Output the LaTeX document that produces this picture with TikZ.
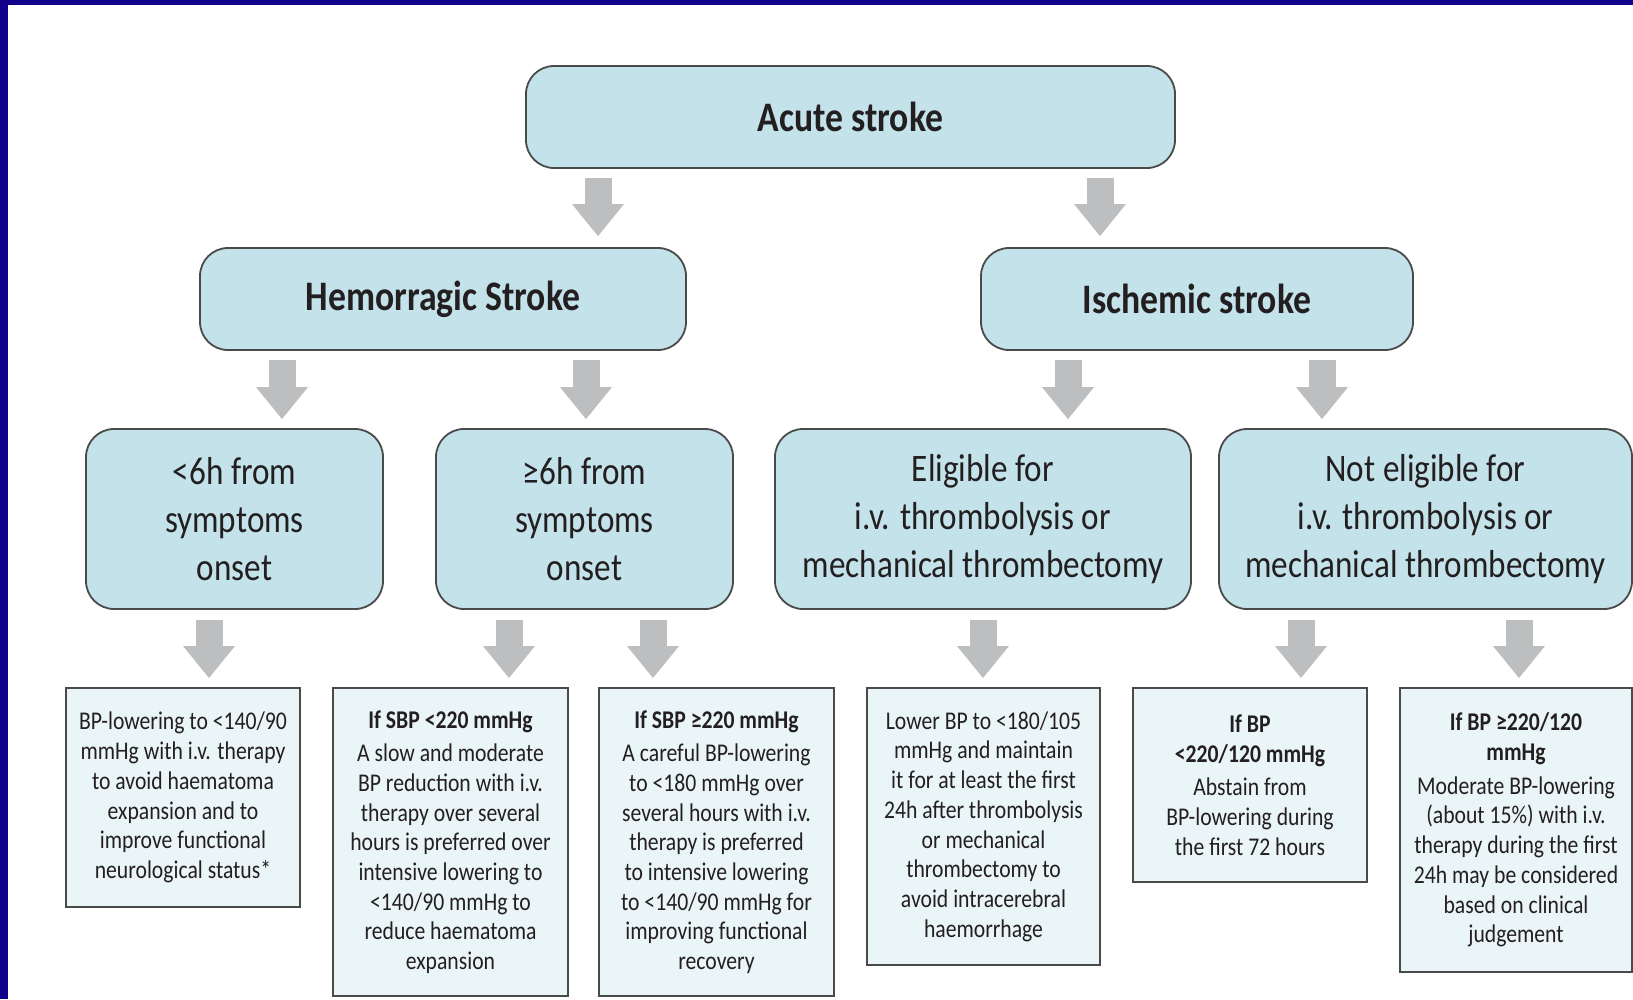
\documentclass[tikz,border=0pt]{standalone}
\usepackage{fontspec}
\setmainfont[FakeStretch=0.85]{Carlito}
\usetikzlibrary{arrows.meta,calc}
\definecolor{framecol}{HTML}{10008A}
\definecolor{hdrfill}{HTML}{C3E2E9}
\definecolor{leaffill}{HTML}{EAF5F7}
\definecolor{edgecol}{HTML}{4A4A4A}
\definecolor{arrowgray}{HTML}{BDBEC0}
\definecolor{txt}{HTML}{231F20}
\tikzset{
  hdr/.style={draw=edgecol, line width=1.8pt, fill=hdrfill, rounded corners=28pt,
    align=center, inner sep=0pt, text=txt, font=\bfseries\fontsize{42}{48}\selectfont},
  midbox/.style={draw=edgecol, line width=1.8pt, fill=hdrfill, rounded corners=28pt,
    align=center, inner sep=0pt, text=txt, font=\fontsize{39}{48}\selectfont},
  leaf/.style={draw=edgecol, line width=2pt, fill=leaffill, align=center,
    inner sep=0pt, text=txt, font=\fontsize{25.5}{29.7}\selectfont},
  blk/.style={draw=arrowgray, line width=27pt,
    -{Triangle[length=32pt,width=52pt,line width=0pt]}}
}
\begin{document}
\begin{tikzpicture}[x=1pt,y=-1pt]
\useasboundingbox (0,0) rectangle (1633,999);
\fill[white] (0,0) rectangle (1633,999);
\fill[framecol] (0,0) rectangle (1633,5);
\fill[framecol] (0,0) rectangle (8,999);

% level 1
\node[hdr, minimum width=649pt, minimum height=102pt] (acute) at (850.5,117) {Acute stroke};
% level 2
\node[hdr, minimum width=486pt, minimum height=102pt] (hem) at (443,299) {Hemorragic Stroke};
\node[hdr, minimum width=432pt, minimum height=102pt] (isch) at (1197,299) {Ischemic stroke};
% level 3
\node[midbox, minimum width=297pt, minimum height=180pt] (lt6) at (234.5,519) {<6h from\\symptoms\\onset};
\node[midbox, minimum width=297pt, minimum height=180pt] (ge6) at (584.5,519) {≥6h from\\symptoms\\onset};
\node[midbox, minimum width=416pt, minimum height=180pt] (elig) at (983,519) {Eligible for\\i.v. thrombolysis or\\mechanical thrombectomy};
\node[midbox, minimum width=413pt, minimum height=180pt] (notel) at (1425.5,519) {Not eligible for\\i.v. thrombolysis or\\mechanical thrombectomy};
% level 4
\node[leaf, minimum width=234pt, minimum height=219pt] (b1) at (183,797.5)
  {BP-lowering to <140/90\\mmHg with i.v. therapy\\to avoid haematoma\\expansion and to\\improve functional\\neurological status*};
\node[leaf, minimum width=235pt, minimum height=308pt] (b2) at (450.5,842)
  {\textbf{If SBP <220 mmHg}\\[4pt]A slow and moderate\\BP reduction with i.v.\\therapy over several\\hours is preferred over\\intensive lowering to\\<140/90 mmHg to\\reduce haematoma\\expansion};
\node[leaf, minimum width=235pt, minimum height=308pt] (b3) at (716.5,842)
  {\textbf{If SBP ≥220 mmHg}\\[4pt]A careful BP-lowering\\to <180 mmHg over\\several hours with i.v.\\therapy is preferred\\to intensive lowering\\to <140/90 mmHg for\\improving functional\\recovery};
\node[leaf, minimum width=233pt, minimum height=277pt] (b4) at (983.5,826.5)
  {Lower BP to <180/105\\mmHg and maintain\\it for at least the first\\24h after thrombolysis\\or mechanical\\thrombectomy to\\avoid intracerebral\\haemorrhage};
\node[leaf, minimum width=234pt, minimum height=194pt] (b5) at (1250,785)
  {\textbf{If BP}\\\textbf{<220/120 mmHg}\\[4pt]Abstain from\\BP-lowering during\\the first 72 hours};
\node[leaf, minimum width=232pt, minimum height=284pt] (b6) at (1516,830)
  {\textbf{If BP ≥220/120}\\\textbf{mmHg}\\[4pt]Moderate BP-lowering\\(about 15\%) with i.v.\\therapy during the first\\24h may be considered\\based on clinical\\judgement};

% arrows level 1 -> 2
\draw[blk] ([xshift=-252.5pt,yshift=-9pt]acute.south) -- ([xshift=155pt,yshift=11pt]hem.north);
\draw[blk] ([xshift=249.5pt,yshift=-9pt]acute.south) -- ([xshift=-97pt,yshift=11pt]isch.north);
% level 2 -> 3
\draw[blk] ([xshift=-161pt,yshift=-9pt]hem.south) -- ([xshift=47.5pt,yshift=9pt]lt6.north);
\draw[blk] ([xshift=143pt,yshift=-9pt]hem.south) -- ([xshift=1.5pt,yshift=9pt]ge6.north);
\draw[blk] ([xshift=-129pt,yshift=-9pt]isch.south) -- ([xshift=85pt,yshift=9pt]elig.north);
\draw[blk] ([xshift=125pt,yshift=-9pt]isch.south) -- ([xshift=-103.5pt,yshift=9pt]notel.north);
% level 3 -> 4
\draw[blk] ([xshift=-25.5pt,yshift=-10pt]lt6.south) -- ([xshift=26pt,yshift=9pt]b1.north);
\draw[blk] ([xshift=-75.5pt,yshift=-10pt]ge6.south) -- ([xshift=58.5pt,yshift=9pt]b2.north);
\draw[blk] ([xshift=68.5pt,yshift=-10pt]ge6.south) -- ([xshift=-63.5pt,yshift=9pt]b3.north);
\draw[blk] ([xshift=0pt,yshift=-10pt]elig.south) -- ([xshift=-0.5pt,yshift=9pt]b4.north);
\draw[blk] ([xshift=-124.5pt,yshift=-10pt]notel.south) -- ([xshift=51pt,yshift=9pt]b5.north);
\draw[blk] ([xshift=93.5pt,yshift=-10pt]notel.south) -- ([xshift=3pt,yshift=9pt]b6.north);
\end{tikzpicture}
\end{document}
